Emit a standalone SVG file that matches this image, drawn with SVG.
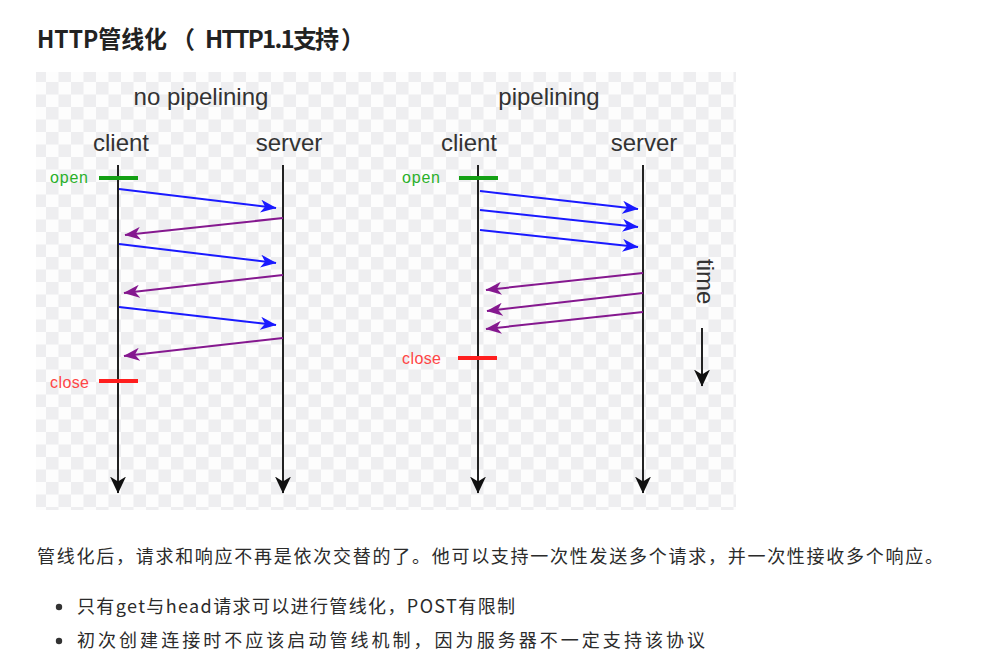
<svg xmlns="http://www.w3.org/2000/svg" width="1001" height="662" viewBox="0 0 1001 662">
  <style>
    .h { font-family: "Noto Sans CJK SC", "Liberation Sans", sans-serif; font-weight: 700; font-size: 24px; fill: #222; }
    .p { font-family: "Noto Sans CJK SC", "Liberation Sans", sans-serif; font-size: 18px; fill: #2b2b2b; }
    .lbl { font-family: "Liberation Sans", Arial, sans-serif; font-size: 24px; fill: #333; }
    .tag { font-family: "Liberation Sans", Arial, sans-serif; font-size: 16px; }
    .life { stroke: #222; stroke-width: 2; fill: none; marker-end: url(#ah-black); }
    .req { stroke: #1a1aff; stroke-width: 2; fill: none; marker-end: url(#ah-blue); }
    .res { stroke: #85188f; stroke-width: 2; fill: none; marker-end: url(#ah-purple); }
    .open { stroke: #14a014; stroke-width: 4; }
    .close { stroke: #ff1e1e; stroke-width: 4; }
  </style>
  <defs>
    <pattern id="checker" x="46" y="82" width="25" height="25" patternUnits="userSpaceOnUse">
      <rect width="25" height="25" fill="#fdfdfd"/>
      <rect width="12.5" height="12.5" fill="#eeeef0"/>
      <rect x="12.5" y="12.5" width="12.5" height="12.5" fill="#eeeef0"/>
    </pattern>
    <marker id="ah-blue" markerUnits="userSpaceOnUse" viewBox="0 0 16 13" markerWidth="16" markerHeight="13" refX="15.5" refY="6.5" orient="auto">
      <path d="M0,0 L16,6.5 L0,13 L4.5,6.5 Z" fill="#1a1aff"/>
    </marker>
    <marker id="ah-purple" markerUnits="userSpaceOnUse" viewBox="0 0 16 13" markerWidth="16" markerHeight="13" refX="15.5" refY="6.5" orient="auto">
      <path d="M0,0 L16,6.5 L0,13 L4.5,6.5 Z" fill="#85188f"/>
    </marker>
    <marker id="ah-black" markerUnits="userSpaceOnUse" viewBox="0 0 17 16" markerWidth="17" markerHeight="16" refX="16.5" refY="8" orient="auto">
      <path d="M0,0 L17,8 L0,16 L5,8 Z" fill="#111"/>
    </marker>
  </defs>

  <rect width="1001" height="662" fill="#ffffff"/>

  <!-- heading -->
  <g id="heading">
    <text class="h" y="48"><tspan x="37" textLength="130" lengthAdjust="spacingAndGlyphs">HTTP管线化</tspan><tspan x="171">（</tspan><tspan x="205" textLength="160" lengthAdjust="spacing">HTTP1.1支持 ）</tspan></text>
  </g>

  <!-- figure backdrop -->
  <rect x="36" y="72" width="700" height="438" fill="url(#checker)"/>

  <!-- panel titles -->
  <g id="titles">
    <text class="lbl" x="201" y="105" text-anchor="middle">no pipelining</text>
    <text class="lbl" x="549" y="105" text-anchor="middle">pipelining</text>
  </g>

  <!-- left panel: no pipelining -->
  <g id="np-client">
    <text class="lbl" x="121" y="151" text-anchor="middle">client</text>
    <line class="life" x1="118" y1="165" x2="118" y2="493"/>
  </g>
  <g id="np-server">
    <text class="lbl" x="289" y="151" text-anchor="middle">server</text>
    <line class="life" x1="283" y1="165" x2="283" y2="493"/>
  </g>
  <g id="np-open">
    <line class="open" x1="99" y1="178" x2="138" y2="178"/>
    <text class="tag" x="50" y="183" fill="#2ab02a" textLength="38">open</text>
  </g>
  <g id="np-close">
    <line class="close" x1="99" y1="381" x2="138" y2="381"/>
    <text class="tag" x="50" y="388" fill="#ff4545" textLength="39">close</text>
  </g>

  <!-- right panel: pipelining -->
  <g id="p-client">
    <text class="lbl" x="469" y="151" text-anchor="middle">client</text>
    <line class="life" x1="478" y1="165" x2="478" y2="493"/>
  </g>
  <g id="p-server">
    <text class="lbl" x="644" y="151" text-anchor="middle">server</text>
    <line class="life" x1="643" y1="165" x2="643" y2="493"/>
  </g>
  <g id="p-open">
    <line class="open" x1="459" y1="178" x2="498" y2="178"/>
    <text class="tag" x="402" y="183" fill="#2ab02a" textLength="38">open</text>
  </g>
  <g id="p-close">
    <line class="close" x1="458" y1="358" x2="497" y2="358"/>
    <text class="tag" x="402" y="364" fill="#ff4545" textLength="39">close</text>
  </g>

  <!-- time axis -->
  <g id="time">
    <text class="lbl" transform="translate(697,259) rotate(90)">time</text>
    <line class="life" x1="702" y1="328" x2="702" y2="386"/>
  </g>

  <!-- messages -->
  <g id="connectors">
    <line class="req" x1="119" y1="189" x2="276" y2="208"/>
    <line class="res" x1="283" y1="218" x2="125" y2="235"/>
    <line class="req" x1="119" y1="244" x2="276" y2="263"/>
    <line class="res" x1="283" y1="275" x2="124" y2="293"/>
    <line class="req" x1="119" y1="307" x2="276" y2="325"/>
    <line class="res" x1="283" y1="338" x2="124" y2="356"/>

    <line class="req" x1="480" y1="191" x2="638" y2="209"/>
    <line class="req" x1="480" y1="210" x2="638" y2="227"/>
    <line class="req" x1="480" y1="230" x2="638" y2="247"/>
    <line class="res" x1="643" y1="273" x2="486" y2="290"/>
    <line class="res" x1="643" y1="293" x2="487" y2="311"/>
    <line class="res" x1="643" y1="312" x2="486" y2="329"/>
  </g>

  <!-- body text -->
  <g id="body">
    <text class="p" x="37" y="563" textLength="906" lengthAdjust="spacing">管线化后，请求和响应不再是依次交替的了。他可以支持一次性发送多个请求，并一次性接收多个响应。</text>
    <circle cx="59" cy="607" r="3.2" fill="#333"/>
    <text class="p" x="77" y="613" textLength="438" lengthAdjust="spacing">只有get与head请求可以进行管线化，POST有限制</text>
    <circle cx="59" cy="641" r="3.2" fill="#333"/>
    <text class="p" x="77" y="647" textLength="628" lengthAdjust="spacing">初次创建连接时不应该启动管线机制，因为服务器不一定支持该协议</text>
  </g>
</svg>
